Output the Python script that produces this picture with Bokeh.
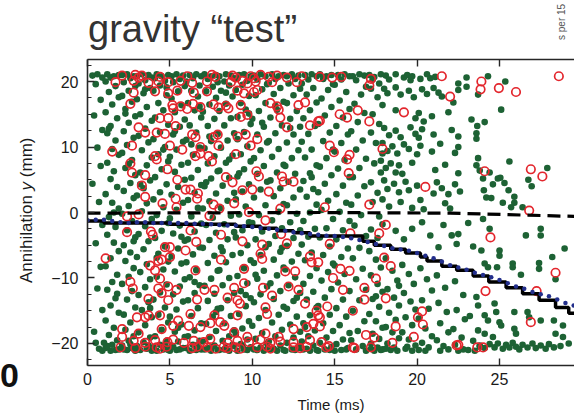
import math
from bokeh.plotting import figure
from bokeh.layouts import column
from bokeh.models import Range1d, LinearAxis, FixedTicker, Div
from bokeh.embed import file_html
from bokeh.resources import INLINE

FONT = "Liberation Sans"
GREEN = "#1d6234"
RED = "#e3262d"
BLUE = "#232f8c"
INK = "#262626"

# ---------------- data (time in ms, annihilation y in mm) ----------------
x_ticks = [0, 5, 10, 15, 20, 25]
y_ticks = [-20, -10, 0, 10, 20]
y_minor = [-22.5, -17.5, -15, -12.5, -7.5, -5, -2.5, 2.5, 5, 7.5, 12.5, 15, 17.5, 22.5]
y_tick_text = {-20: "\u221220", -10: "\u221210", 0: "0", 10: "10", 20: "20"}

green_0_5 = [
 (0.3,20.9),(0.6,21.1),(0.9,20.6),(0.5,19.6),(0.8,17.2),(0.4,14.8),(0.9,12.6),(0.6,9.9),(0.8,7.1),(0.3,4.4),(0.7,1.6),(0.9,-1.9),(0.5,-4.7),(0.8,-8.3),(0.6,-11.6),(0.9,-14.9),(0.4,-18.2),(0.7,-20.8),(0.9,-21.1),(0.5,-19.9),
 (1.2,21.1),(1.6,20.8),(1.9,21.0),(1.4,20.6),(1.1,20.0),(1.7,19.3),(1.3,18.4),(1.9,17.6),(1.5,16.5),(1.1,15.3),(1.8,14.4),(1.4,13.2),(1.2,12.1),(1.7,11.0),(1.5,9.7),(1.9,8.8),(1.2,7.6),(1.6,6.3),(1.4,5.1),(1.8,3.9),(1.1,2.8),(1.5,1.5),(1.9,0.6),(1.3,-0.7),(1.7,-2.2),(1.2,-3.4),(1.6,-4.6),(1.9,-5.9),(1.4,-7.0),(1.1,-8.2),(1.8,-9.5),(1.5,-10.6),(1.2,-11.8),(1.7,-13.1),(1.4,-14.2),(1.9,-15.3),(1.1,-16.5),(1.6,-17.6),(1.3,-18.7),(1.8,-19.5),(1.5,-20.2),(1.1,-20.7),(1.9,-20.9),(1.4,-21.1),(1.7,-21.0),(1.2,-20.4),(1.0,-19.9),(1.3,12.8),(1.8,-12.4),(1.6,0.0),
 (2.1,21.0),(2.4,21.1),(2.8,20.8),(2.6,20.5),(2.2,19.9),(2.9,19.3),(2.5,18.6),(2.1,17.8),(2.7,16.9),(2.3,15.8),(2.9,14.7),(2.5,13.7),(2.2,12.4),(2.8,11.4),(2.4,10.3),(2.1,9.1),(2.7,8.0),(2.3,6.8),(2.9,5.7),(2.6,4.5),(2.2,3.3),(2.8,2.2),(2.5,1.0),(2.1,-0.2),(2.7,-1.3),(2.4,-2.7),(2.9,-3.8),(2.2,-5.0),(2.6,-6.1),(2.3,-7.4),(2.8,-8.5),(2.5,-9.8),(2.1,-10.9),(2.7,-12.0),(2.4,-13.3),(2.9,-14.5),(2.2,-15.6),(2.6,-16.8),(2.3,-17.9),(2.8,-18.9),(2.5,-19.6),(2.1,-20.3),(2.7,-20.7),(2.4,-21.0),(2.9,-21.1),(2.2,-20.9),(2.6,-20.1),(2.5,7.4),(2.8,-4.4),(2.3,15.1),
 (3.0,20.8),(3.3,21.1),(3.7,21.0),(3.9,20.6),(3.5,20.2),(3.1,19.7),(3.8,19.0),(3.4,18.2),(3.0,17.3),(3.6,16.1),(3.2,15.0),(3.9,14.0),(3.5,12.8),(3.1,11.7),(3.7,10.7),(3.3,9.5),(3.9,8.4),(3.6,7.2),(3.2,6.1),(3.8,4.9),(3.4,3.7),(3.0,2.6),(3.6,1.4),(3.3,0.2),(3.9,-1.0),(3.5,-2.1),(3.1,-3.3),(3.7,-4.4),(3.4,-5.6),(3.0,-6.8),(3.6,-7.9),(3.2,-9.1),(3.8,-10.2),(3.5,-11.4),(3.1,-12.6),(3.7,-13.7),(3.3,-14.9),(3.9,-16.0),(3.5,-17.2),(3.1,-18.3),(3.8,-19.1),(3.4,-19.8),(3.0,-20.4),(3.6,-20.8),(3.2,-21.0),(3.9,-21.1),(3.7,-20.3),(3.2,4.3),(3.8,-14.6),(3.5,18.8),
 (4.2,21.1),(4.5,20.8),(4.9,21.0),(4.1,20.5),(4.7,20.1),(4.4,19.4),(4.0,18.6),(4.8,17.9),(4.3,16.7),(4.6,15.6),(4.1,14.5),(4.9,13.4),(4.4,12.3),(4.0,11.2),(4.7,10.0),(4.3,8.9),(4.9,7.8),(4.5,6.6),(4.1,5.4),(4.8,4.3),(4.4,3.1),(4.0,2.0),(4.6,0.8),(4.2,-0.4),(4.9,-1.6),(4.5,-2.8),(4.1,-3.9),(4.7,-5.2),(4.3,-6.3),(4.9,-7.5),(4.6,-8.7),(4.2,-9.8),(4.8,-11.0),(4.4,-12.2),(4.0,-13.3),(4.7,-14.5),(4.3,-15.6),(4.9,-16.8),(4.5,-17.9),(4.1,-18.9),(4.8,-19.6),(4.4,-20.2),(4.0,-20.6),(4.6,-20.9),(4.2,-21.1),(4.9,-21.0),(4.7,-20.3),(4.6,9.6),(4.2,-6.9),(4.8,19.1),
]

green_5_10 = [
 (5.1,20.8),(5.4,21.1),(5.8,20.9),(5.6,20.4),(5.2,19.9),(5.9,19.3),(5.5,18.5),(5.1,17.4),(5.7,16.4),(5.3,15.3),(5.9,14.2),(5.6,13.1),(5.2,11.9),(5.8,10.8),(5.4,9.6),(5.0,8.5),(5.7,7.3),(5.3,6.2),(5.9,5.0),(5.5,3.9),(5.1,2.7),(5.8,1.5),(5.4,0.4),(5.0,-0.9),(5.6,-2.0),(5.2,-3.2),(5.9,-4.3),(5.5,-5.5),(5.1,-6.7),(5.7,-7.8),(5.3,-9.0),(5.9,-10.2),(5.6,-11.3),(5.2,-12.5),(5.8,-13.6),(5.4,-14.8),(5.0,-15.9),(5.7,-17.1),(5.3,-18.2),(5.9,-19.0),(5.5,-19.7),(5.1,-20.3),(5.8,-20.7),(5.4,-21.0),(5.0,-21.1),(5.6,-20.9),(5.2,-20.5),(5.3,12.4),(5.7,-3.7),(5.5,-17.6),
 (6.2,21.0),(6.6,21.1),(6.9,20.8),(6.4,20.5),(6.0,20.0),(6.8,19.4),(6.3,18.6),(6.7,17.7),(6.1,16.7),(6.5,15.6),(6.9,14.5),(6.2,13.3),(6.6,12.2),(6.0,11.1),(6.8,9.9),(6.4,8.8),(6.1,7.6),(6.7,6.5),(6.3,5.3),(6.9,4.2),(6.5,3.0),(6.1,1.9),(6.7,0.7),(6.3,-0.6),(6.9,-1.7),(6.5,-2.9),(6.1,-4.1),(6.8,-5.3),(6.4,-6.4),(6.0,-7.6),(6.6,-8.8),(6.2,-9.9),(6.8,-11.1),(6.5,-12.3),(6.1,-13.4),(6.7,-14.6),(6.3,-15.8),(6.9,-16.9),(6.5,-18.0),(6.1,-18.9),(6.8,-19.6),(6.4,-20.2),(6.0,-20.7),(6.6,-21.0),(6.2,-21.1),(6.9,-20.9),(6.7,-20.4),(6.3,10.4),(6.5,-10.6),(6.8,16.2),
 (7.1,21.1),(7.5,20.8),(7.8,21.0),(7.3,20.4),(7.9,19.9),(7.6,19.2),(7.2,18.5),(7.8,17.5),(7.4,16.5),(7.0,15.4),(7.7,14.3),(7.3,13.2),(7.9,12.0),(7.5,10.9),(7.1,9.8),(7.7,8.6),(7.3,7.5),(7.9,6.3),(7.5,5.2),(7.1,4.0),(7.8,2.9),(7.4,1.7),(7.0,0.6),(7.6,-0.8),(7.2,-1.9),(7.8,-3.1),(7.4,-4.2),(7.0,-5.4),(7.7,-6.6),(7.3,-7.7),(7.9,-8.9),(7.5,-10.1),(7.1,-11.2),(7.7,-12.4),(7.3,-13.5),(7.9,-14.7),(7.6,-15.9),(7.2,-17.0),(7.8,-18.1),(7.4,-19.0),(7.0,-19.7),(7.7,-20.3),(7.3,-20.7),(7.9,-21.0),(7.5,-21.1),(7.1,-20.9),(7.6,-20.5),(7.2,4.6),(7.8,-15.2),(7.4,11.6),
 (8.0,20.8),(8.4,21.1),(8.7,20.9),(8.9,20.5),(8.3,20.0),(8.6,19.4),(8.1,18.6),(8.8,17.7),(8.4,16.6),(8.0,15.5),(8.7,14.4),(8.3,13.3),(8.9,12.1),(8.5,11.0),(8.1,9.9),(8.8,8.7),(8.4,7.6),(8.0,6.4),(8.6,5.3),(8.2,4.1),(8.9,3.0),(8.5,1.8),(8.1,0.7),(8.7,-0.5),(8.3,-1.8),(8.9,-3.0),(8.5,-4.1),(8.1,-5.3),(8.8,-6.5),(8.4,-7.6),(8.0,-8.8),(8.6,-10.0),(8.2,-11.1),(8.9,-12.3),(8.5,-13.4),(8.1,-14.6),(8.7,-15.8),(8.3,-16.9),(8.9,-18.0),(8.6,-18.9),(8.2,-19.6),(8.8,-20.2),(8.4,-20.7),(8.0,-21.0),(8.6,-21.1),(8.3,-20.9),(8.9,-20.4),(8.6,8.1),(8.2,-5.9),(8.4,18.3),
 (9.2,21.0),(9.5,21.1),(9.9,20.8),(9.1,20.5),(9.7,20.1),(9.4,19.5),(9.0,18.7),(9.8,17.8),(9.3,16.7),(9.6,15.7),(9.1,14.6),(9.9,13.5),(9.5,12.3),(9.1,11.2),(9.7,10.1),(9.3,8.9),(9.9,7.8),(9.5,6.6),(9.1,5.5),(9.8,4.3),(9.4,3.2),(9.0,2.0),(9.6,0.9),(9.2,-0.3),(9.8,-1.5),(9.4,-2.7),(9.0,-3.8),(9.7,-5.0),(9.3,-6.2),(9.9,-7.3),(9.5,-8.5),(9.1,-9.7),(9.7,-10.8),(9.3,-12.0),(9.9,-13.1),(9.6,-14.3),(9.2,-15.5),(9.8,-16.6),(9.4,-17.7),(9.0,-18.6),(9.7,-19.4),(9.3,-20.1),(9.9,-20.6),(9.5,-20.9),(9.1,-21.1),(9.7,-21.0),(9.4,-20.4),(9.2,6.0),(9.6,-12.6),(9.8,15.1),
]

green_10_17 = [
 (10.1,20.9),(10.5,21.1),(10.8,20.8),(10.3,20.3),(10.9,19.6),(10.6,18.8),(10.2,17.9),(10.8,16.7),(10.4,15.5),(10.0,14.3),(10.7,13.1),(10.3,11.9),(10.9,10.7),(10.5,9.5),(10.1,8.3),(10.7,7.1),(10.3,5.9),(10.9,4.7),(10.5,3.5),(10.1,2.3),(10.8,1.1),(10.4,-0.4),(10.0,-1.6),(10.6,-2.9),(10.2,-4.1),(10.8,-5.3),(10.5,-6.5),(10.1,-7.7),(10.7,-8.9),(10.3,-10.1),(10.9,-11.3),(10.5,-12.5),(10.1,-13.7),(10.8,-14.9),(10.4,-16.1),(10.0,-17.3),(10.6,-18.4),(10.2,-19.3),(10.9,-20.0),(10.5,-20.6),(10.1,-20.9),(10.7,-21.1),(10.3,-21.0),(10.9,-20.8),(10.6,13.7),(10.2,-9.5),
 (11.2,21.1),(11.6,20.8),(11.9,21.0),(11.4,20.4),(11.0,19.8),(11.7,19.0),(11.3,18.1),(11.9,16.9),(11.5,15.7),(11.1,14.5),(11.8,13.3),(11.4,12.1),(11.0,10.9),(11.6,9.7),(11.2,8.5),(11.9,7.3),(11.5,6.1),(11.1,4.9),(11.7,3.7),(11.3,2.5),(11.9,1.3),(11.6,0.1),(11.2,-1.2),(11.8,-2.4),(11.4,-3.6),(11.0,-4.8),(11.7,-6.0),(11.3,-7.2),(11.9,-8.4),(11.5,-9.6),(11.1,-10.8),(11.7,-12.0),(11.3,-13.2),(11.9,-14.4),(11.6,-15.6),(11.2,-16.8),(11.8,-17.9),(11.4,-18.9),(11.0,-19.7),(11.7,-20.3),(11.3,-20.8),(11.9,-21.0),(11.5,-21.1),(11.1,-20.9),(11.4,16.3),(11.8,-5.4),
 (12.1,20.8),(12.4,21.1),(12.8,20.9),(12.6,20.4),(12.2,19.7),(12.9,18.9),(12.5,17.9),(12.1,16.7),(12.7,15.5),(12.3,14.3),(12.9,13.1),(12.5,11.9),(12.1,10.7),(12.8,9.5),(12.4,8.3),(12.0,7.1),(12.6,5.9),(12.2,4.7),(12.9,3.5),(12.5,2.3),(12.1,1.1),(12.7,-0.2),(12.3,-1.5),(12.9,-2.7),(12.5,-3.9),(12.1,-5.1),(12.8,-6.3),(12.4,-7.5),(12.0,-8.7),(12.6,-9.9),(12.2,-11.1),(12.9,-12.3),(12.5,-13.5),(12.1,-14.7),(12.7,-15.9),(12.3,-17.1),(12.9,-18.2),(12.5,-19.1),(12.1,-19.9),(12.8,-20.5),(12.4,-20.9),(12.0,-21.1),(12.6,-21.0),(12.9,-20.7),(12.3,12.9),(12.7,-13.0),
 (13.2,21.0),(13.6,21.1),(13.9,20.8),(13.4,20.3),(13.0,19.7),(13.7,19.0),(13.3,18.0),(13.9,16.8),(13.5,15.6),(13.1,14.4),(13.8,13.2),(13.4,12.0),(13.0,10.8),(13.6,9.6),(13.2,8.4),(13.9,7.2),(13.5,6.0),(13.1,4.8),(13.7,3.6),(13.3,2.4),(13.9,1.2),(13.5,0.0),(13.1,-1.3),(13.8,-2.5),(13.4,-3.7),(13.0,-4.9),(13.6,-6.1),(13.2,-7.3),(13.9,-8.5),(13.5,-9.7),(13.1,-10.9),(13.7,-12.1),(13.3,-13.3),(13.9,-14.5),(13.5,-15.7),(13.1,-16.9),(13.8,-18.0),(13.4,-18.9),(13.0,-19.7),(13.7,-20.3),(13.3,-20.8),(13.9,-21.0),(13.5,-21.1),(13.1,-20.9),(13.6,5.4),(13.2,-17.5),
 (14.1,21.1),(14.5,20.8),(14.8,21.0),(14.3,20.4),(14.9,19.6),(14.6,18.7),(14.2,17.4),(14.8,16.1),(14.4,14.8),(14.0,13.5),(14.7,12.2),(14.3,10.9),(14.9,9.6),(14.5,8.3),(14.1,7.0),(14.8,5.7),(14.4,4.4),(14.0,3.1),(14.6,1.8),(14.2,0.4),(14.9,-1.0),(14.5,-2.4),(14.1,-3.8),(14.7,-5.2),(14.3,-6.5),(14.9,-7.8),(14.6,-9.1),(14.2,-10.4),(14.8,-11.7),(14.4,-13.0),(14.0,-14.3),(14.7,-15.6),(14.3,-16.9),(14.9,-18.1),(14.5,-19.1),(14.1,-19.9),(14.8,-20.5),(14.4,-20.9),(14.0,-21.1),(14.7,-21.0),
 (15.2,21.0),(15.6,21.1),(15.9,20.8),(15.4,20.3),(15.0,19.5),(15.7,18.4),(15.3,17.1),(15.9,15.8),(15.5,14.5),(15.1,13.2),(15.8,11.9),(15.4,10.6),(15.0,9.3),(15.6,8.0),(15.2,6.7),(15.9,5.4),(15.5,4.1),(15.1,2.8),(15.7,1.5),(15.3,0.1),(15.9,-1.3),(15.5,-2.7),(15.1,-4.1),(15.8,-5.5),(15.4,-6.8),(15.0,-8.1),(15.6,-9.4),(15.2,-10.7),(15.9,-12.0),(15.5,-13.3),(15.1,-14.6),(15.7,-15.9),(15.3,-17.2),(15.9,-18.4),(15.5,-19.4),(15.1,-20.1),(15.8,-20.7),(15.4,-21.0),(15.0,-21.1),(15.7,-20.9),
 (16.1,20.8),(16.5,21.1),(16.8,20.9),(16.3,20.2),(16.9,19.2),(16.6,18.0),(16.2,16.6),(16.8,15.2),(16.4,13.8),(16.0,12.4),(16.7,11.0),(16.3,9.6),(16.9,8.2),(16.5,6.8),(16.1,5.4),(16.8,4.0),(16.4,2.6),(16.0,1.2),(16.6,-0.4),(16.2,-2.0),(16.9,-3.6),(16.5,-5.4),(16.1,-7.0),(16.7,-8.6),(16.3,-10.2),(16.9,-11.8),(16.5,-13.4),(16.1,-15.0),(16.8,-16.6),(16.4,-18.1),(16.0,-19.5),(16.7,-20.4),(16.3,-20.9),(16.9,-21.1),
]

green_late_upper = [
 (17.1,21.0),(17.4,20.7),(17.8,21.1),(17.3,20.3),(17.7,19.7),(17.2,18.9),(17.6,17.6),(17.9,16.4),(17.3,15.0),(17.7,13.5),(17.2,12.2),(17.5,10.6),(17.9,9.0),(17.4,7.5),(17.8,6.1),(17.2,4.6),(17.6,3.0),(17.3,1.6),(17.7,-0.6),(17.2,-2.6),(17.6,-3.9),(17.9,-1.8),
 (18.1,20.9),(18.3,20.3),(18.7,21.1),(19.2,20.6),(19.4,21.0),(19.6,20.2),(19.7,20.8),(20.2,20.4),(20.6,21.1),(20.8,20.5),(21.1,20.7),
 (18.0,18.9),(18.2,18.2),(18.7,19.1),(19.0,18.0),(19.5,18.6),(19.8,17.6),(20.3,18.8),(20.6,18.1),(21.0,19.0),(21.3,18.3),(21.5,17.7),(22.5,18.7),(23.0,19.2),(22.5,19.7),(23.0,20.6),(22.2,16.8),
 (18.7,15.6),(19.9,14.4),(20.1,15.2),(20.4,13.9),(20.9,14.7),(21.9,15.3),(23.3,14.2),
 (18.0,12.9),(18.3,11.8),(18.7,12.5),(19.0,11.5),(19.6,13.0),(19.9,12.0),(20.1,11.4),(20.3,12.7),(21.0,11.9),(22.1,12.6),(22.5,11.6),(23.6,12.1),
 (17.9,10.6),(18.2,9.4),(18.5,10.1),(18.8,9.0),(19.2,10.4),(19.5,9.7),(20.0,8.9),(20.2,10.2),(20.9,9.3),(21.4,10.5),(22.3,9.1),(22.5,10.0),
 (17.8,7.9),(18.1,6.8),(18.4,7.5),(18.7,6.1),(18.9,7.2),(19.1,5.9),(19.7,7.6),(21.1,6.5),(21.7,7.3),(22.5,6.0),
 (18.0,4.9),(18.2,3.6),(18.6,4.4),(18.9,3.1),(19.3,4.7),(19.5,3.4),(20.0,4.1),(21.0,2.9),(21.2,4.6),(21.5,3.7),(21.9,2.8),(22.3,4.3),(22.6,3.2),
 (17.9,2.0),(18.3,0.9),(19.0,1.6),(19.7,0.7),(20.2,1.9),(20.4,0.5),(21.7,1.4),(22.0,0.6),
 (24.3,20.8),(25.35,20.0),(23.7,18.0),(25.1,15.7),(24.1,13.8),(23.65,13.2),(23.6,11.25),(23.7,8.3),(25.6,7.8),(23.6,7.2),(23.8,6.4),(24.4,6.1),(27.9,6.8),
 (24.9,5.2),(25.05,5.3),(24.0,5.2),(25.3,4.5),(24.6,4.3),(26.75,5.0),(26.95,4.0),(24.05,3.4),(25.55,3.4),(24.2,2.3),(24.5,2.2),(25.9,2.4),(25.2,1.5),(25.9,1.5),(25.7,0.8),(26.4,0.8),
]

green_late_mid = [
 (18.7,-2.8),(19.7,-2.5),(20.8,-3.5),(22.1,-3.5),(22.5,-3.3),(21.3,-5.3),(22.4,-4.8),(19.2,-4.1),(20.3,-1.5),(21.6,-1.9),(23.1,-1.6),(23.4,-5.2),(24.0,-1.0),(24.4,-2.5),(23.9,-5.8),(25.0,-5.8),(25.0,-6.6),
 (25.8,-7.8),(25.8,-8.35),(24.1,-7.8),(24.3,-8.35),(24.85,-8.35),(26.3,-9.5),(27.4,-7.7),(28.2,-6.8),(27.4,-8.6),(28.95,-5.5),(28.4,-10.2),(27.5,-2.5),(27.5,-3.5),(26.6,-3.5),
]

green_late_lower = [
 (17.1,-5.9),(17.5,-7.2),(17.8,-8.4),(17.2,-9.6),(17.6,-10.9),(17.9,-12.1),(17.3,-13.2),(17.7,-14.4),(17.1,-15.5),(17.5,-16.6),(17.9,-17.6),(17.3,-18.5),(17.7,-19.3),(17.2,-20.0),(17.6,-20.6),(17.9,-20.9),(17.4,-21.1),(17.8,-21.0),(17.2,-20.8),(17.5,-12.8),
 (18.1,-7.0),(18.5,-8.9),(18.8,-10.4),(18.2,-11.7),(18.6,-13.0),(18.9,-14.2),(18.3,-15.3),(18.7,-16.4),(18.1,-17.5),(18.5,-18.3),(18.9,-19.2),(18.2,-20.0),(18.6,-20.6),(18.4,-21.0),(18.8,-21.1),(18.1,-20.8),(18.9,-11.2),
 (19.1,-8.0),(19.5,-9.4),(19.8,-10.9),(19.2,-12.3),(19.6,-13.6),(19.9,-14.8),(19.3,-16.0),(19.7,-17.2),(19.1,-18.3),(19.5,-19.4),(19.9,-20.3),(19.3,-20.8),(19.7,-21.1),(19.4,-20.5),
 (20.2,-8.5),(20.6,-10.2),(20.9,-11.9),(20.3,-13.4),(20.7,-14.7),(20.1,-16.2),(20.5,-17.7),(20.9,-18.9),(20.3,-19.9),(20.7,-20.6),(20.1,-21.0),(20.5,-21.1),
 (21.2,-9.6),(21.7,-11.5),(21.3,-13.8),(21.8,-15.2),(21.4,-16.9),(21.9,-18.3),(21.2,-19.5),(21.6,-20.4),(21.9,-20.9),(21.4,-21.1),
 (22.3,-10.5),(22.8,-12.6),(22.4,-14.9),(22.9,-16.3),(22.2,-17.8),(22.7,-19.1),(22.3,-20.2),(22.8,-20.9),(22.5,-21.1),
 (23.6,-12.9),(23.7,-14.2),(23.2,-15.8),(23.7,-18.0),(23.4,-19.6),(23.8,-20.5),(23.1,-21.0),(23.5,-21.1),
 (24.7,-13.9),(24.8,-15.2),(25.9,-15.2),(24.1,-15.7),(24.3,-16.5),(25.0,-16.75),(25.1,-17.25),(26.7,-15.2),(26.8,-16.0),(27.5,-16.5),(28.3,-16.5),(28.85,-17.25),(25.9,-17.75),(26.0,-18.5),(24.1,-18.5),(24.6,-19.0),(28.4,-18.5),(28.85,-19.0),
 (23.8,-20.3),(24.1,-20.7),(24.4,-20.1),(24.7,-20.6),(24.9,-20.0),(25.2,-20.8),(25.4,-20.2),(25.6,-20.6),(25.8,-19.9),(26.0,-20.5),(26.2,-20.9),(26.4,-20.2),(26.7,-20.6),(27.0,-20.0),(27.2,-20.7),(27.5,-20.3),(27.8,-20.8),(28.0,-20.1),(28.3,-20.6),(28.7,-20.4),(29.2,-20.0),
]

red_upper = [
 (2.1,20.9),(2.9,21.0),(3.1,20.6),(3.3,20.9),(4.4,20.7),(6.05,20.8),(7.55,21.0),(7.75,20.7),(8.8,20.9),(9.0,20.6),(9.9,20.8),(10.1,20.5),(10.5,21.0),(11.0,20.7),(11.5,20.9),(12.1,20.6),(13.0,20.8),(14.1,20.7),
 (1.7,19.9),(2.8,20.1),(3.7,19.8),(4.3,20.0),(4.9,19.9),(5.65,20.1),(6.35,19.8),(7.25,20.0),(8.7,19.9),(9.4,20.1),(9.7,19.7),(10.2,20.0),(11.2,19.9),(12.7,19.9),
 (2.8,18.3),(4.1,18.5),(4.9,18.2),(5.45,18.6),(6.45,18.3),(7.25,18.5),(9.1,18.6),(9.5,18.2),(10.1,18.4),(10.3,18.7),
 (2.6,16.6),(5.15,16.4),(5.2,15.9),(5.65,16.2),(6.05,15.8),(6.4,16.6),(6.85,16.1),(7.65,16.5),(7.95,16.0),(8.4,16.3),(8.55,15.9),(9.3,16.4),(11.1,16.7),(11.5,16.2),(11.6,15.7),(12.8,16.4),(13.2,16.8),
 (4.4,14.4),(4.9,14.4),(3.1,13.0),(3.5,12.2),(4.2,12.2),(4.7,12.0),(5.35,13.2),(6.55,11.5),(6.35,11.9),(7.65,11.5),(7.9,11.9),(9.1,11.6),(9.6,11.9),(9.3,14.6),(9.7,14.9),(11.7,14.5),(12.1,13.0),(13.5,13.3),(14.0,13.9),
 (2.7,10.2),(1.5,9.3),(5.0,10.2),(5.75,9.6),(6.85,10.0),(7.95,10.2),(9.0,8.9),(9.9,10.2),(10.3,11.2),(4.2,8.1),(4.1,8.6),(6.55,8.6),(6.85,9.0),(7.35,8.6),(7.55,7.8),(4.85,6.6),(2.6,7.5),(2.7,6.1),
 (3.5,5.7),(3.3,4.1),(5.45,5.0),(3.5,2.4),(5.95,3.5),(6.25,3.5),(6.7,2.9),(6.65,2.1),(8.4,5.4),(8.8,4.6),(9.4,3.4),(10.0,3.5),(10.25,6.3),(10.4,5.5),(11.0,3.2),(11.8,5.5),(11.9,4.7),(12.5,4.7),(5.35,2.1),(7.65,1.2),(8.9,1.4),(4.55,1.4),
 (2.4,-0.6),(3.1,-0.3),(5.4,0.8),(7.4,-0.5),(8.0,0.6),(9.8,0.05),(11.7,0.6),
]

red_late = [
 (14.85,20.6),(15.4,20.7),(17.2,20.4),(17.1,19.4),(21.5,20.8),(23.9,20.0),(23.85,18.8),(24.96,19.0),(26.0,18.4),(28.6,20.8),(22.0,17.7),(19.2,15.3),(16.4,15.6),(15.3,15.0),(15.75,14.5),(17.1,13.9),(14.1,14.0),
 (14.7,10.2),(14.95,9.2),(15.9,8.8),(15.75,8.1),(17.9,9.7),(15.85,6.0),(24.1,6.3),(26.9,6.6),(27.6,5.5),(20.5,3.9),(14.4,0.8),(17.1,1.2),(26.8,0.3),
 (18.1,-1.9),(17.7,-3.2),(15.95,-3.2),(24.45,-3.8),(14.7,-4.8),(18.0,-6.9),(18.4,-8.2),(15.35,-8.6),(15.9,-8.9),(28.4,-9.2),(14.9,-10.0),(17.5,-10.1),(24.15,-12.0),(27.25,-12.0),(15.5,-11.8),(16.8,-11.5),(16.8,-13.3),(18.1,-13.1),
 (14.55,-14.35),(16.1,-15.0),(20.3,-15.1),(20.05,-16.0),(26.9,-16.75),(18.7,-17.4),(20.35,-17.1),(14.1,-16.0),(16.9,-18.7),(17.4,-19.1),(19.8,-19.0),(18.5,-19.9),(14.65,-20.4),(16.1,-20.6),(17.2,-20.6),(22.5,-20.2),(23.65,-20.6),(24.0,-20.6),(16.2,-20.7),(22.4,-20.3),
]

red_lower = [
 (2.4,-3.0),(3.85,-2.9),(3.95,-3.4),(6.25,-2.75),(8.1,-3.4),(10.8,-1.2),(11.75,-3.3),(12.1,-4.7),(9.4,-4.4),(10.6,-4.9),(1.1,-7.0),(4.7,-5.3),(5.0,-5.3),(5.95,-5.8),(6.6,-4.5),
 (4.3,-7.4),(4.5,-7.2),(5.0,-6.8),(8.1,-7.2),(9.5,-8.6),(10.5,-6.3),(10.6,-7.1),(13.5,-6.7),(14.0,-7.6),(13.6,-7.6),(6.55,-8.85),(2.6,-10.6),(2.75,-11.6),(3.8,-8.1),(4.1,-8.85),(4.4,-10.1),(4.3,-11.6),(4.5,-12.3),
 (4.9,-11.3),(5.4,-11.8),(7.1,-11.8),(7.7,-11.8),(8.9,-11.5),(9.1,-13.4),(9.25,-13.9),(9.5,-10.8),(10.65,-11.5),(11.2,-12.7),(12.2,-11.3),(12.8,-11.8),(12.0,-9.0),(12.6,-9.0),(8.5,-13.0),(6.65,-13.3),(3.7,-13.2),(4.9,-13.4),
 (3.0,-16.0),(3.5,-16.0),(3.7,-15.7),(4.4,-15.7),(6.25,-15.5),(7.7,-15.7),(9.1,-15.7),(10.8,-14.5),(10.9,-15.5),(13.2,-13.9),(13.9,-15.0),(14.0,-15.7),
 (2.1,-17.8),(3.1,-18.5),(2.1,-19.0),(4.5,-17.8),(5.2,-17.3),(5.5,-16.5),(6.15,-17.3),(6.85,-17.5),(7.45,-16.9),(8.05,-16.75),(8.3,-17.3),(8.9,-18.3),(9.7,-19.0),(10.8,-18.5),(11.6,-19.0),(12.5,-17.8),(13.3,-17.5),(13.7,-17.0),(14.1,-17.4),
 (2.8,-19.6),(3.5,-19.9),(4.1,-19.5),(4.85,-19.8),(5.2,-19.4),(5.85,-19.9),(6.45,-19.6),(7.05,-19.8),(7.45,-19.3),(8.5,-19.9),(9.1,-19.6),(9.8,-19.8),(10.5,-19.4),(11.1,-19.9),(11.7,-19.7),(12.5,-19.8),(13.5,-19.5),(14.2,-19.8),
 (2.0,-20.6),(2.9,-20.7),(3.5,-20.5),(4.2,-20.6),(4.4,-20.8),(4.8,-20.5),(6.35,-20.7),(6.65,-20.5),(7.26,-20.6),(7.77,-20.8),(8.27,-20.5),(8.48,-20.7),(8.98,-20.6),(9.28,-20.8),(10.3,-20.6),(10.9,-20.5),(11.1,-20.8),(12.5,-20.6),(12.9,-20.7),(13.3,-20.5),(14.5,-20.6),
]

blue_t = [0, 0.5, 1.0, 1.5, 2.0, 2.5, 3.0, 3.5, 4.0, 4.5, 5.0, 5.5, 6.0, 6.5, 7.0, 7.5, 8.0, 8.5, 9.0, 9.5,
          10.0, 10.5, 11.0, 11.5, 12.0, 12.5, 13.0, 13.5, 14.0, 14.5, 15.0, 15.5, 16.0, 16.5, 17.0, 17.5, 18.0, 18.5, 19.0, 19.5,
          20.0, 20.5, 21.0, 21.5, 22.0, 22.5, 23.0, 23.5, 24.0, 24.5, 25.0, 25.5, 26.0, 26.5, 27.0, 27.5, 28.0, 28.5, 29.0, 29.5]
blue_y = [-1.2, -1.1, -1.1, -1.3, -1.5, -1.6, -1.5, -1.5, -1.6, -1.6, -1.6, -1.6, -1.6, -1.7, -1.7, -1.8, -1.9, -2.0, -2.0, -2.1,
          -2.2, -2.35, -2.5, -2.65, -2.8, -3.0, -3.15, -3.3, -3.4, -3.55, -3.6, -3.75, -3.95, -4.2, -4.5, -4.8, -5.1, -5.45, -5.65, -5.85,
          -6.2, -6.6, -7.0, -7.5, -8.05, -8.4, -8.75, -9.2, -9.55, -9.9, -10.3, -10.8, -11.3, -11.65, -12.15, -12.5, -12.8, -13.3, -13.8, -14.2]

step_t = [0, 1.0, 5.0, 9.0, 10.5, 11.5, 12.5, 13.5, 16.7, 17.4, 18.4, 19.3, 20.2, 20.6, 21.5, 22.4, 23.4, 24.35, 25.4, 26.4, 27.4, 28.4, 29.2, 29.6]
step_y = [-1.3, -1.6, -1.8, -2.1, -2.4, -2.8, -3.1, -3.6, -4.4, -5.0, -5.6, -6.2, -6.8, -7.4, -8.2, -8.8, -9.7, -10.6, -11.5, -12.4, -13.4, -14.5, -15.4, -15.4]

dash_t = [0, 14, 22, 29.6]
dash_y = [-0.1, 0.0, -0.1, -0.6]

title_text = "gravity \u201ctest\u201d"
x_label = "Time (ms)"
y_label_html = "Annihilation <i>y</i> (mm)"
side_note = "s per 15"
corner_digit = "0"

# ---------------- figure ----------------
green = green_0_5 + green_5_10 + green_10_17 + green_late_upper + green_late_mid + green_late_lower
red = red_upper + red_late + red_lower

p = figure(width=574, height=418, output_backend="svg", toolbar_location=None,
           x_range=Range1d(0, 29.55), y_range=Range1d(-23.36, 23.36),
           min_border_left=87, min_border_right=0, min_border_top=59, min_border_bottom=53)
p.grid.visible = False
p.outline_line_color = None
p.background_fill_color = "white"
p.border_fill_color = "white"

xa = p.xaxis[0]
ya = p.yaxis[0]
for ax in (xa, ya):
    ax.axis_line_color = INK
    ax.axis_line_width = 1.6
    ax.major_tick_in = 7
    ax.major_tick_out = 0
    ax.minor_tick_in = 4
    ax.minor_tick_out = 0
    ax.major_tick_line_color = INK
    ax.major_tick_line_width = 1.4
    ax.minor_tick_line_color = INK
    ax.minor_tick_line_width = 1.2
    ax.major_label_text_font = FONT
    ax.major_label_text_font_size = "16px"
    ax.major_label_text_color = "#1a1a1a"
    ax.axis_label_text_font = FONT
    ax.axis_label_text_font_style = "normal"
    ax.axis_label_text_color = "#1a1a1a"

xa.ticker = FixedTicker(ticks=x_ticks)
xa.minor_tick_line_color = None
xa.major_label_standoff = 7
xa.axis_label = x_label
xa.axis_label_text_font_size = "15px"
xa.axis_label_standoff = 8

ya.ticker = FixedTicker(ticks=y_ticks, minor_ticks=y_minor)
ya.major_label_overrides = y_tick_text
ya.major_label_standoff = 9

top = LinearAxis(ticker=FixedTicker(ticks=x_ticks),
                 major_label_overrides={t: "" for t in x_ticks},
                 axis_line_color=INK, axis_line_width=1.6,
                 major_tick_in=7, major_tick_out=0, major_tick_line_color=INK,
                 major_tick_line_width=1.4, minor_tick_line_color=None,
                 major_label_standoff=0, major_label_text_font_size="1px")
p.add_layout(top, "above")

p.scatter([g[0] for g in green], [g[1] for g in green], marker="circle", size=6.6,
          fill_color=GREEN, line_color=None)
p.scatter([r[0] for r in red], [r[1] for r in red], marker="circle", size=8.5,
          fill_color=None, line_color=RED, line_width=1.7)
p.line(dash_t, dash_y, line_color="black", line_width=3.2, line_dash="13 7")
p.step(step_t, step_y, mode="after", line_color="black", line_width=3.5)
p.scatter(blue_t, blue_y, marker="circle", size=4.5, fill_color=BLUE, line_color=None)

# ---------------- texts laid over the page ----------------
def overlay(text, css):
    base = {"position": "absolute", "font-family": FONT, "line-height": "1",
            "white-space": "nowrap", "z-index": "10", "margin": "0", "padding": "0"}
    base.update(css)
    return Div(text=text, styles=base)

title = overlay(title_text, {"left": "88px", "top": "10px", "font-size": "38px", "color": "#333333"})
ylab = overlay(y_label_html, {"left": "18px", "top": "283px", "transform": "rotate(-90deg)",
                              "transform-origin": "0 0", "font-size": "17px", "color": "#1a1a1a"})
note = overlay(side_note, {"left": "557px", "top": "40px", "transform": "rotate(-90deg)",
                           "transform-origin": "0 0", "font-size": "10px", "color": "#555555"})
digit = overlay(corner_digit, {"left": "0px", "top": "358px", "font-size": "34px",
                               "font-weight": "bold", "color": "#111111"})

page = column(p, title, ylab, note, digit)
open("out.html", "w").write(file_html(page, INLINE))
